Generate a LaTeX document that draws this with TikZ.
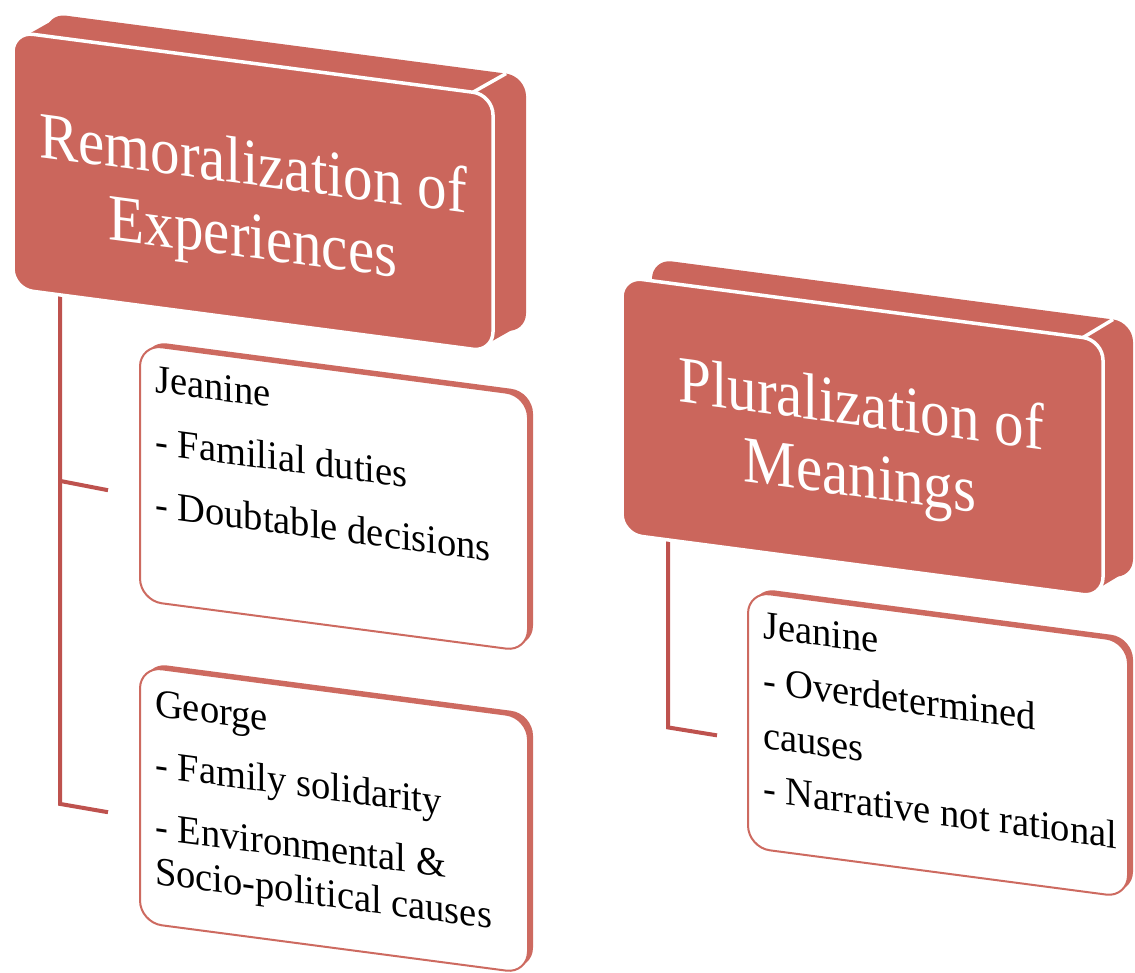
\documentclass[tikz,border=0pt]{standalone}
\usepackage{fontspec}
\setmainfont{Liberation Serif}
\definecolor{hdr}{RGB}{203,102,92}
\definecolor{linkred}{RGB}{190,82,78}
\definecolor{cbord}{RGB}{205,106,96}
\begin{document}
\begin{tikzpicture}[x=1pt,y=-1pt,
  hfront/.style={draw=white, line width=3.5pt, fill=hdr, rounded corners=20pt, inner sep=0pt},
  hside/.style={fill=hdr, rounded corners=20pt},
  crease/.style={draw=white, line width=3.5pt},
  cfront/.style={draw=cbord, line width=2pt, fill=white, rounded corners=22pt, inner sep=0pt},
  cside/.style={fill=cbord, rounded corners=22pt},
  link/.style={draw=linkred, line width=4pt, line join=miter},
  htext/.style={text=white, font=\fontsize{59}{72}\selectfont, anchor=base, inner sep=0pt, yscale=1.12},
  btext/.style={text=black, font=\fontsize{38.5}{46}\selectfont, anchor=base west, inner sep=0pt, yscale=1.04}]
\useasboundingbox (0,0) rectangle (1135,973);
% everything below lies on a sheared plane
\begin{scope}[cm={1,-0.1316,0,1,(0,0)}, transform shape]
  % connector ends
  \coordinate (h1foot) at (60,287);
  \coordinate (l1end) at (60,796);
  \coordinate (c1fork) at (60,473);
  \coordinate (c1tip) at (108,476);
  \coordinate (c2tip) at (108,798);
  \coordinate (h2foot) at (668,452);
  \coordinate (l2end) at (668,639.5);
  \coordinate (c3tip) at (717,641);
  \draw[link] (h1foot) -- (l1end) -- (c2tip);
  \draw[link] (c1fork) -- (c1tip);
  \draw[link] (h2foot) -- (l2end) -- (c3tip);

  % header 1: depth faces, front face, edge
  \fill[hside] (46,7) rectangle (526,264);
  \fill[hdr] (22,35) -- (55,12) -- (517,259) -- (484,282) -- cycle;
  \node[hfront, minimum width=480pt, minimum height=257pt] (h1) at (253,158.5) {};
  \draw[crease] (473,30) -- (506,7);

  % header 2
  \fill[hside] (652,173) rectangle (1133,430);
  \fill[hdr] (631,230) -- (661,208) -- (1124,425) -- (1094,447) -- cycle;
  \node[hfront, minimum width=481pt, minimum height=257pt] (h2) at (862.5,323.5) {};
  \draw[crease] (1083,195) -- (1113,173);

  % child boxes
  \fill[cside] (145,321.5) rectangle (533,577.5);
  \fill[cbord] (148,332.5) -- (153,328) -- (525,571) -- (520,575.5) -- cycle;
  \node[cfront, minimum width=388pt, minimum height=256pt] (c1) at (334,454) {};

  \fill[cside] (145,643.5) rectangle (533,899.5);
  \fill[cbord] (148,654.5) -- (153,650) -- (525,893) -- (520,897.5) -- cycle;
  \node[cfront, minimum width=388pt, minimum height=256pt] (c2) at (334,776) {};

  \fill[cside] (753,488.5) rectangle (1133,744.5);
  \fill[cbord] (756,499.5) -- (761,495) -- (1125,738) -- (1120,742.5) -- cycle;
  \node[cfront, minimum width=380pt, minimum height=256pt] (c3) at (938,621) {};

  % header texts
  \node[htext] (h1a) at (253,152) {Remoralization of};
  \node[htext] (h1b) at (253,225) {Experiences};
  \node[htext] (h2a) at (861,312.7) {Pluralization of};
  \node[htext] (h2b) at (860,384) {Meanings};

  % child texts
  \node[btext] (c1a) at (155,371.6) {Jeanine};
  \node[btext] (c1b) at (155,433.7) {- Familial duties};
  \node[btext] (c1c) at (155,496.7) {- Doubtable decisions};

  \node[btext] (c2a) at (155,695.6) {George};
  \node[btext] (c2b) at (155,756.7) {- Family solidarity};
  \node[btext] (c2c) at (155,818.7) {- Environmental \&};
  \node[btext] (c2d) at (155,863.6) {Socio-political causes};

  \node[btext] (c3a) at (763,537.6) {Jeanine};
  \node[btext] (c3b) at (763,593.4) {- Overdetermined};
  \node[btext] (c3c) at (763,647.6) {causes};
  \node[btext] (c3d) at (763,701.4) {- Narrative not rational};
\end{scope}
\end{tikzpicture}
\end{document}
